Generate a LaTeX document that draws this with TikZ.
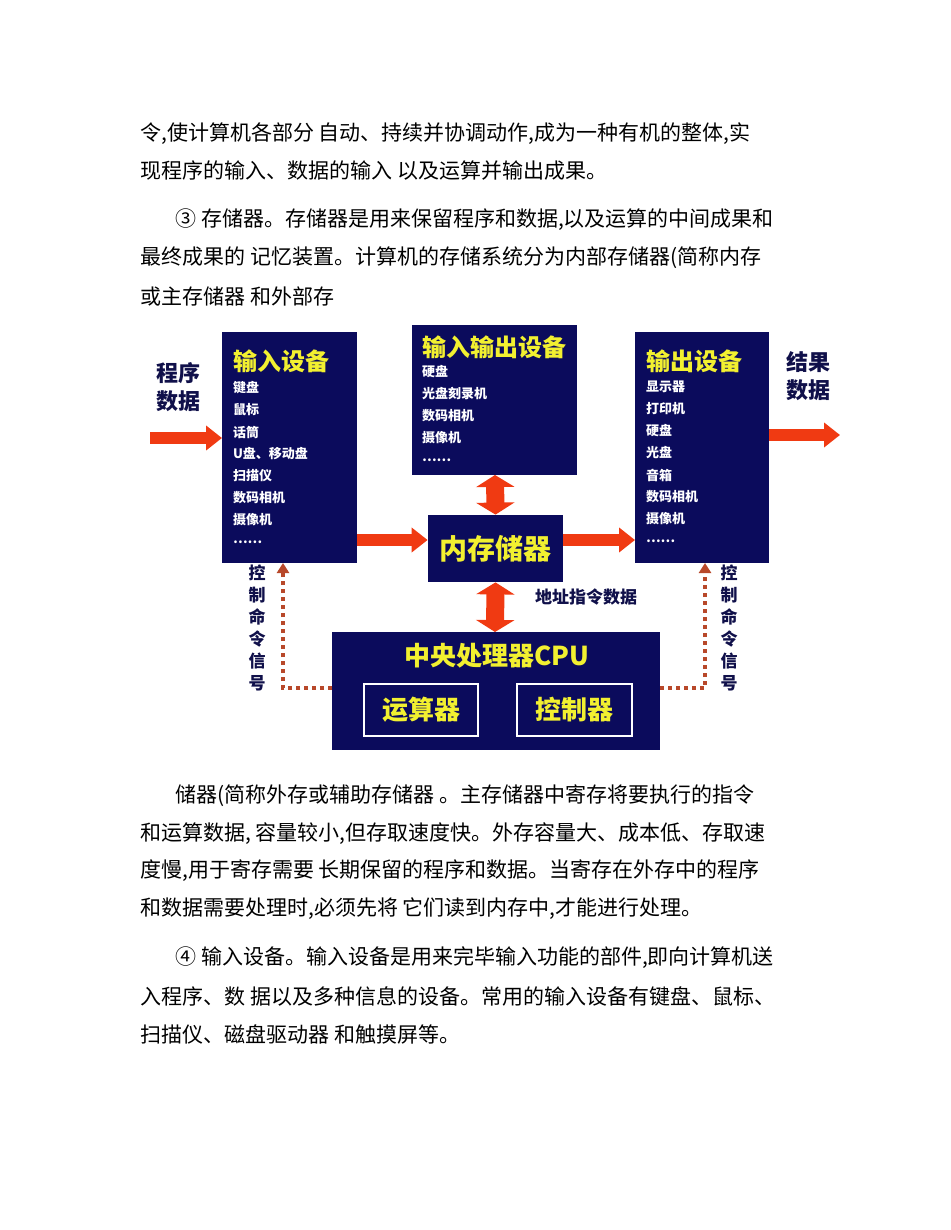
\documentclass[tikz,border=0pt]{standalone}
\usepackage{fontspec}
\setmainfont{Noto Sans CJK SC}
\usetikzlibrary{arrows.meta}
\definecolor{navy}{HTML}{0B0B5C}
\definecolor{ylw}{HTML}{F2F030}
\definecolor{arr}{HTML}{F03A12}
\definecolor{dots}{HTML}{B8482A}
\definecolor{lbl}{HTML}{10104A}
\begin{document}
\begin{tikzpicture}[x=0.5pt,y=-0.5pt,
  box/.style={fill=navy,draw=none,inner sep=0pt},
  ttl/.style={text=ylw,font=\bfseries\fontsize{12}{12}\selectfont,anchor=west},
  itm/.style={text=white,font=\bfseries\fontsize{6.5}{7}\selectfont,anchor=west},
  para/.style={anchor=west,inner sep=0pt,font=\fontsize{10.5}{12}\selectfont},
  big/.style={line width=6pt,arr,-{Triangle[width=12pt,length=8pt]}},
  dbl/.style={line width=9pt,arr,{Triangle[width=19pt,length=6pt]}-{Triangle[width=19pt,length=6pt]}},
  dot/.style={line width=2pt,dots,dotted,-{Triangle[width=6pt,length=5pt]}},
  lab/.style={text=lbl,font=\bfseries\fontsize{11}{14}\selectfont},
  vlab/.style={text=lbl,font=\bfseries\fontsize{8.5}{11}\selectfont,align=center}]
\useasboundingbox[fill=white] (0,0) rectangle (950,1230);
% paragraphs
\node[para] (p1) at (140,134) {令,使计算机各部分\ 自动、持续并协调动作,成为一种有机的整体,实};
\node[para] (p2) at (140,171) {现程序的输入、数据的输入\ 以及运算并输出成果。};
\node[para] (p3) at (175,220) {③ 存储器。存储器是用来保留程序和数据,以及运算的中间成果和};
\node[para] (p4) at (140,258) {最终成果的\ 记忆装置。计算机的存储系统分为内部存储器(简称内存};
\node[para] (p5) at (140,296) {或主存储器\ 和外部存};
\node[para] (p6) at (175,796) {储器(简称外存或辅助存储器\ 。主存储器中寄存将要执行的指令};
\node[para] (p7) at (140,834) {和运算数据,\ 容量较小,但存取速度快。外存容量大、成本低、存取速};
\node[para] (p8) at (140,871) {度慢,用于寄存需要\ 长期保留的程序和数据。当寄存在外存中的程序};
\node[para] (p9) at (140,909) {和数据需要处理时,必须先将\ 它们读到内存中,才能进行处理。};
\node[para] (p10) at (175,958) {④ 输入设备。输入设备是用来完毕输入功能的部件,即向计算机送};
\node[para] (p11) at (140,996) {入程序、数\ 据以及多种信息的设备。常用的输入设备有键盘、鼠标、};
\node[para] (p12) at (140,1034) {扫描仪、磁盘驱动器\ 和触摸屏等。};
% boxes
\fill[navy] (222,332) rectangle (357,563);
\coordinate (inL) at (222,438); \coordinate (inR) at (357,540);
\fill[navy] (412,325) rectangle (577,475);
\coordinate (ioB) at (495,475);
\fill[navy] (635,332) rectangle (769,563);
\coordinate (outL) at (635,540); \coordinate (outR) at (769,435);
\node[box,minimum width=135*0.5pt,minimum height=67*0.5pt,text=ylw,font=\bfseries\fontsize{14}{14}\selectfont] (mem) at (495.5,548.5) {内存储器};
\fill[navy] (332,632) rectangle (660,750);
\coordinate (cpuT) at (495,632);
\coordinate (cpuL) at (332,688); \coordinate (cpuR) at (660,688);
\node[text=ylw,font=\bfseries\fontsize{13}{13}\selectfont] (cput) at (497,656) {中央处理器CPU};
\node[draw=white,line width=1.2pt,minimum width=114*0.5pt,minimum height=52*0.5pt,text=ylw,font=\bfseries\fontsize{13}{13}\selectfont] (alu) at (421,710) {运算器};
\node[draw=white,line width=1.2pt,minimum width=115*0.5pt,minimum height=52*0.5pt,text=ylw,font=\bfseries\fontsize{13}{13}\selectfont] (ctl) at (574.5,710) {控制器};
% input box text
\node[ttl] (t1) at (226,361) {输入设备};
\foreach \t [count=\i] in {键盘,鼠标,话筒,U盘、移动盘,扫描仪,数码相机,摄像机,……}
  \node[itm] (a\i) at (226,366+22*\i) {\t};
\node[ttl] (t2) at (415,347) {输入输出设备};
\foreach \t [count=\i] in {硬盘,光盘刻录机,数码相机,摄像机,……}
  \node[itm] (b\i) at (415,350+22*\i) {\t};
\node[ttl] (t3) at (639,361) {输出设备};
\foreach \t [count=\i] in {显示器,打印机,硬盘,光盘,音箱,数码相机,摄像机,……}
  \node[itm] (c\i) at (639,365+22*\i) {\t};
% labels
\node[lab,align=center] (l1) at (178,387) {程序\\数据};
\node[lab,align=center] (l2) at (808,376) {结果\\数据};
\node[vlab] (l3) at (257,628) {控\\制\\命\\令\\信\\号};
\node[vlab] (l4) at (729,628) {控\\制\\命\\令\\信\\号};
\node[text=lbl,font=\bfseries\fontsize{8.5}{9}\selectfont,anchor=west] (l5) at (528,597) {地址指令数据};
% arrows
\coordinate (s1) at (150,438);
\draw[big] (s1) -- (inL);
\draw[big] (inR) -- (mem.west|-inR);
\draw[big] (mem.east|-outL) -- (outL);
\coordinate (e2) at (840,435);
\draw[big] (outR) -- (e2);
\draw[dbl] (ioB) -- (mem.north);
\draw[dbl] (mem.south) -- (cpuT);
\draw[dot] (cpuL) -- (283,688) -- (283,563);
\draw[dot] (cpuR) -- (705,688) -- (705,563);
\end{tikzpicture}
\end{document}
